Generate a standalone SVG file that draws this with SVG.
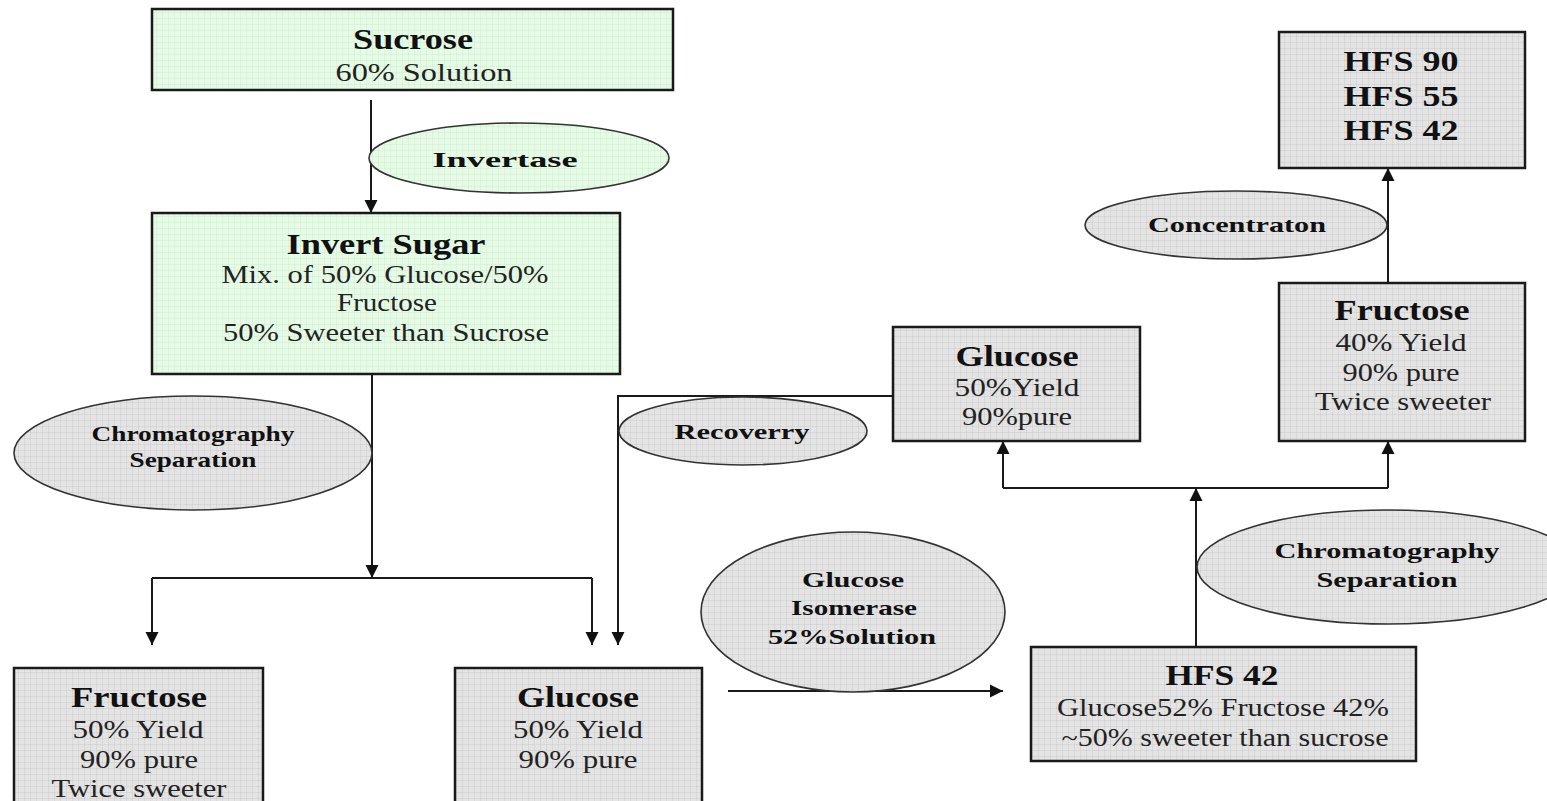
<svg xmlns="http://www.w3.org/2000/svg" width="1547" height="801" viewBox="0 0 1547 801">
<defs>
<pattern id="gridGray" width="6" height="6" patternUnits="userSpaceOnUse">
<rect width="6" height="6" fill="#e4e4e4"/>
<path d="M0,0.25 H6 M0.25,0 V6" stroke="#c9c9c9" stroke-width="0.6" fill="none"/>
</pattern>
<pattern id="gridGreen" width="6" height="6" patternUnits="userSpaceOnUse">
<rect width="6" height="6" fill="#e6fbe6"/>
<path d="M0,0.25 H6 M0.25,0 V6" stroke="#cce8cc" stroke-width="0.6" fill="none"/>
</pattern>
<marker id="arrow" markerUnits="userSpaceOnUse" markerWidth="14" markerHeight="14" refX="13" refY="7" orient="auto">
<path d="M0,0.5 L13,7 L0,13.5 z" fill="#111"/>
</marker>
<style>
.box{stroke:#1a1a1a;stroke-width:2.5}
.gray{fill:url(#gridGray)}
.green{fill:url(#gridGreen)}
.ell{stroke:#333;stroke-width:1.6}
.conn{stroke:#1a1a1a;stroke-width:2;fill:none}
text{font-family:"Liberation Serif","Times New Roman",serif;text-anchor:middle;fill:#111}
.t{font-weight:bold;font-size:30px}
.b{font-size:25px;fill:#222}
.e{font-weight:bold;font-size:22px}
</style>
</defs>
<g id="connectors">
<path class="conn" d="M371,100 V213" marker-end="url(#arrow)"/>
<path class="conn" d="M372,374 V578" marker-end="url(#arrow)"/>
<path class="conn" d="M152,578 H592"/>
<path class="conn" d="M152,578 V645" marker-end="url(#arrow)"/>
<path class="conn" d="M592,578 V645" marker-end="url(#arrow)"/>
<path class="conn" d="M893,396 H618 V645" marker-end="url(#arrow)"/>
<path class="conn" d="M728,691 H1003" marker-end="url(#arrow)"/>
<path class="conn" d="M1196,647 V488" marker-end="url(#arrow)"/>
<path class="conn" d="M1003,488 H1388"/>
<path class="conn" d="M1003,488 V441" marker-end="url(#arrow)"/>
<path class="conn" d="M1388,488 V441" marker-end="url(#arrow)"/>
<path class="conn" d="M1388,283 V168" marker-end="url(#arrow)"/>
</g>
<g id="sucrose">
<rect class="box green" x="152" y="9" width="521" height="81"/>
<text class="t" x="413" y="49" textLength="120" lengthAdjust="spacingAndGlyphs">Sucrose</text>
<text class="b" x="424" y="81" font-size="27" textLength="177" lengthAdjust="spacingAndGlyphs">60% Solution</text>
</g>
<g id="invertase">
<ellipse class="ell green" cx="519" cy="158" rx="150" ry="35"/>
<text class="e" x="505" y="167" font-size="25" textLength="145" lengthAdjust="spacingAndGlyphs">Invertase</text>
</g>
<g id="invert-sugar">
<rect class="box green" x="152" y="213" width="468" height="161"/>
<text class="t" x="386" y="254" textLength="199" lengthAdjust="spacingAndGlyphs">Invert Sugar</text>
<text class="b" x="385" y="283" textLength="327" lengthAdjust="spacingAndGlyphs">Mix. of 50% Glucose/50%</text>
<text class="b" x="387" y="311" textLength="100" lengthAdjust="spacingAndGlyphs">Fructose</text>
<text class="b" x="386" y="341" textLength="326" lengthAdjust="spacingAndGlyphs">50% Sweeter than Sucrose</text>
</g>
<g id="chrom-left">
<ellipse class="ell gray" cx="193" cy="453" rx="179" ry="57"/>
<text class="e" x="193" y="441" font-size="20" textLength="203" lengthAdjust="spacingAndGlyphs">Chromatography</text>
<text class="e" x="193" y="467" font-size="20" textLength="127" lengthAdjust="spacingAndGlyphs">Separation</text>
</g>
<g id="fructose-left">
<rect class="box gray" x="14" y="668" width="249" height="140"/>
<text class="t" x="139" y="707" textLength="136" lengthAdjust="spacingAndGlyphs">Fructose</text>
<text class="b" x="138" y="738" textLength="131" lengthAdjust="spacingAndGlyphs">50% Yield</text>
<text class="b" x="139" y="768" textLength="118" lengthAdjust="spacingAndGlyphs">90% pure</text>
<text class="b" x="139" y="797" textLength="175" lengthAdjust="spacingAndGlyphs">Twice sweeter</text>
</g>
<g id="glucose-bottom">
<rect class="box gray" x="455" y="668" width="247" height="140"/>
<text class="t" x="578" y="707" textLength="122" lengthAdjust="spacingAndGlyphs">Glucose</text>
<text class="b" x="578" y="738" textLength="130" lengthAdjust="spacingAndGlyphs">50% Yield</text>
<text class="b" x="578" y="768" textLength="119" lengthAdjust="spacingAndGlyphs">90% pure</text>
</g>
<g id="recovery">
<ellipse class="ell gray" cx="743" cy="431" rx="124" ry="34"/>
<text class="e" x="742" y="439" textLength="135" lengthAdjust="spacingAndGlyphs">Recoverry</text>
</g>
<g id="glucose-mid">
<rect class="box gray" x="893" y="327" width="247" height="114"/>
<text class="t" x="1017" y="366" textLength="123" lengthAdjust="spacingAndGlyphs">Glucose</text>
<text class="b" x="1017" y="396" textLength="125" lengthAdjust="spacingAndGlyphs">50%Yield</text>
<text class="b" x="1017" y="425" textLength="110" lengthAdjust="spacingAndGlyphs">90%pure</text>
</g>
<g id="isomerase">
<ellipse class="ell gray" cx="853" cy="612" rx="152" ry="80"/>
<text class="e" x="853" y="587" textLength="102" lengthAdjust="spacingAndGlyphs">Glucose</text>
<text class="e" x="854" y="615" textLength="126" lengthAdjust="spacingAndGlyphs">Isomerase</text>
<text class="e" x="852" y="644" textLength="168" lengthAdjust="spacingAndGlyphs">52%Solution</text>
</g>
<g id="hfs42">
<rect class="box gray" x="1031" y="647" width="385" height="114"/>
<text class="t" x="1222" y="685" textLength="113" lengthAdjust="spacingAndGlyphs">HFS 42</text>
<text class="b" x="1223" y="716" textLength="332" lengthAdjust="spacingAndGlyphs">Glucose52% Fructose 42%</text>
<text class="b" x="1225" y="746" textLength="327" lengthAdjust="spacingAndGlyphs">~50% sweeter than sucrose</text>
</g>
<g id="chrom-right">
<ellipse class="ell gray" cx="1388" cy="567" rx="191" ry="57"/>
<text class="e" x="1387" y="558" textLength="225" lengthAdjust="spacingAndGlyphs">Chromatography</text>
<text class="e" x="1387" y="587" textLength="141" lengthAdjust="spacingAndGlyphs">Separation</text>
</g>
<g id="fructose-right">
<rect class="box gray" x="1279" y="283" width="246" height="158"/>
<text class="t" x="1402" y="320" textLength="135" lengthAdjust="spacingAndGlyphs">Fructose</text>
<text class="b" x="1401" y="351" textLength="131" lengthAdjust="spacingAndGlyphs">40% Yield</text>
<text class="b" x="1401" y="381" textLength="117" lengthAdjust="spacingAndGlyphs">90% pure</text>
<text class="b" x="1403" y="410" textLength="176" lengthAdjust="spacingAndGlyphs">Twice sweeter</text>
</g>
<g id="concentration">
<ellipse class="ell gray" cx="1236" cy="225" rx="151" ry="34"/>
<text class="e" x="1237" y="232" textLength="178" lengthAdjust="spacingAndGlyphs">Concentraton</text>
</g>
<g id="hfs-products">
<rect class="box gray" x="1279" y="32" width="246" height="136"/>
<text class="t" x="1401" y="71" textLength="115" lengthAdjust="spacingAndGlyphs">HFS 90</text>
<text class="t" x="1401" y="106" textLength="115" lengthAdjust="spacingAndGlyphs">HFS 55</text>
<text class="t" x="1401" y="140" textLength="115" lengthAdjust="spacingAndGlyphs">HFS 42</text>
</g>
</svg>
